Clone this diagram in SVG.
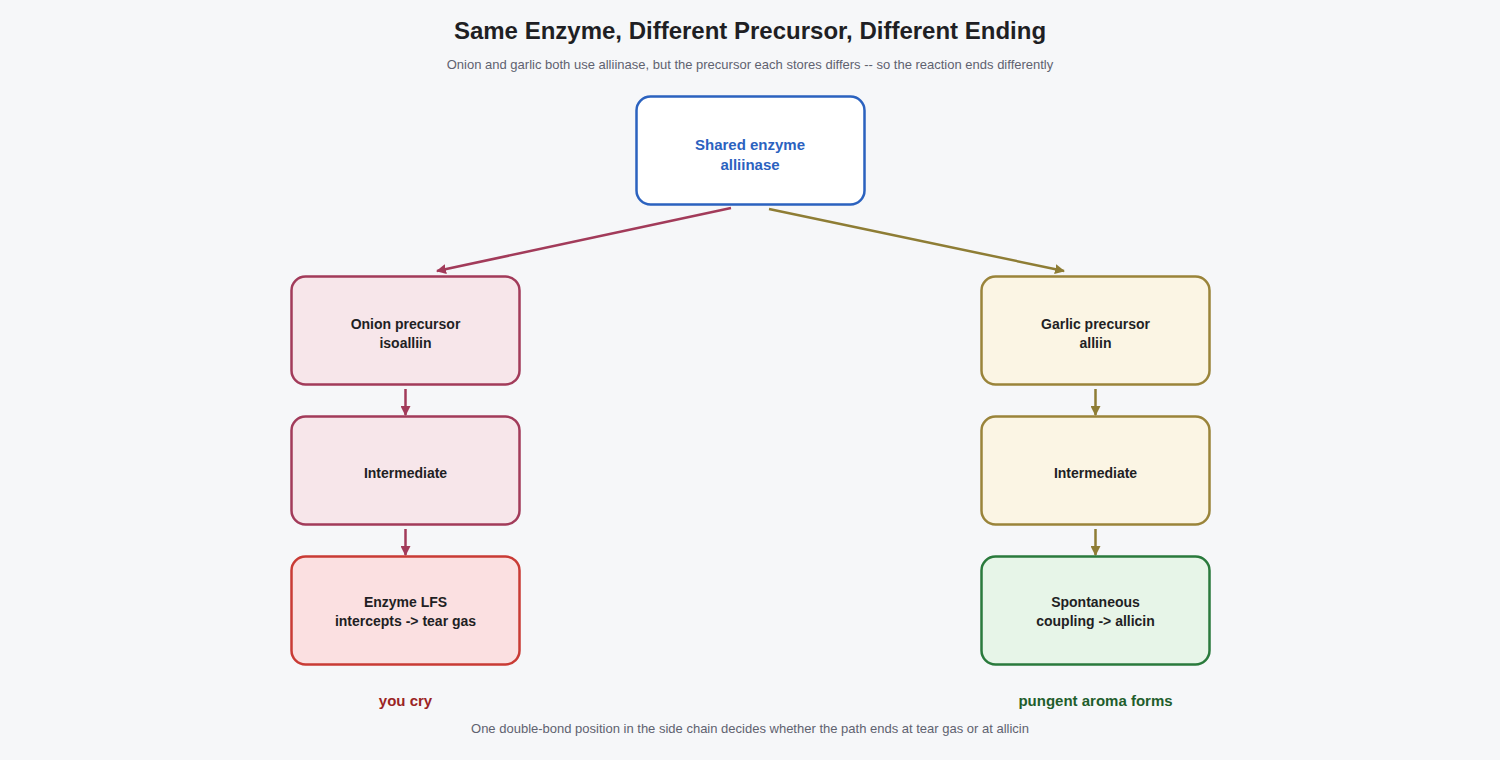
<svg xmlns="http://www.w3.org/2000/svg" width="1500" height="760" viewBox="0 0 1500 760">
<style>
text{font-family:"Liberation Sans",Arial,sans-serif;text-anchor:middle}
.n{font-size:14px;font-weight:bold;fill:#1f1f24}
.box{stroke-width:2.5}
.on{fill:#f7e6ea;stroke:#a23b5a}
.ga{fill:#fbf5e4;stroke:#9a843a}
</style>
<defs>
<marker id="ar" viewBox="0 0 10 10" refX="9" refY="5" markerWidth="4" markerHeight="4" orient="auto"><path d="M0,0L10,5L0,10z" fill="#a23b5a"/></marker>
<marker id="ag" viewBox="0 0 10 10" refX="9" refY="5" markerWidth="4" markerHeight="4" orient="auto"><path d="M0,0L10,5L0,10z" fill="#8e7d35"/></marker>
</defs>
<rect width="1500" height="760" fill="#f6f7f9"/>
<text x="750" y="39" font-size="24" font-weight="bold" fill="#1f1f24">Same Enzyme, Different Precursor, Different Ending</text>
<text x="750" y="69" font-size="13" fill="#5f6270">Onion and garlic both use alliinase, but the precursor each stores differs -- so the reaction ends differently</text>
<g id="connectors" stroke-width="2.5" fill="none">
<line x1="731" y1="208" x2="437" y2="271" stroke="#a23b5a" marker-end="url(#ar)"/>
<line x1="769" y1="209" x2="1064" y2="271" stroke="#8e7d35" marker-end="url(#ag)"/>
<line x1="405.5" y1="389" x2="405.5" y2="415" stroke="#a23b5a" marker-end="url(#ar)"/>
<line x1="405.5" y1="529" x2="405.5" y2="555" stroke="#a23b5a" marker-end="url(#ar)"/>
<line x1="1095.5" y1="389" x2="1095.5" y2="415" stroke="#8e7d35" marker-end="url(#ag)"/>
<line x1="1095.5" y1="529" x2="1095.5" y2="555" stroke="#8e7d35" marker-end="url(#ag)"/>
</g>
<g id="enzyme"><rect x="636.5" y="96.5" width="228" height="108" rx="14" fill="#fff" stroke="#2b62bf" class="box"/>
<text x="750" y="150" font-size="15" font-weight="bold" fill="#2b62bf">Shared enzyme</text><text x="750" y="170" font-size="15" font-weight="bold" fill="#2b62bf">alliinase</text></g>
<g id="onion"><rect x="291.5" y="276.5" width="228" height="108" rx="14" class="box on"/>
<text x="405.5" y="329" class="n">Onion precursor</text><text x="405.5" y="348" class="n">isoalliin</text></g>
<g id="onion-int"><rect x="291.5" y="416.5" width="228" height="108" rx="14" class="box on"/>
<text x="405.5" y="478" class="n">Intermediate</text></g>
<g id="lfs"><rect x="291.5" y="556.5" width="228" height="108" rx="14" class="box" fill="#fbe0e1" stroke="#c93b35"/>
<text x="405.5" y="607" class="n">Enzyme LFS</text><text x="405.5" y="626" class="n">intercepts -&gt; tear gas</text></g>
<g id="garlic"><rect x="981.5" y="276.5" width="228" height="108" rx="14" class="box ga"/>
<text x="1095.5" y="329" class="n">Garlic precursor</text><text x="1095.5" y="348" class="n">alliin</text></g>
<g id="garlic-int"><rect x="981.5" y="416.5" width="228" height="108" rx="14" class="box ga"/>
<text x="1095.5" y="478" class="n">Intermediate</text></g>
<g id="allicin"><rect x="981.5" y="556.5" width="228" height="108" rx="14" class="box" fill="#e7f5e8" stroke="#2a7a3c"/>
<text x="1095.5" y="607" class="n">Spontaneous</text><text x="1095.5" y="626" class="n">coupling -&gt; allicin</text></g>
<text x="405.5" y="706" font-size="15" font-weight="bold" fill="#9b2424">you cry</text>
<text x="1095.5" y="706" font-size="15" font-weight="bold" fill="#1f5e2c">pungent aroma forms</text>
<text x="750" y="733" font-size="13" fill="#5f6270">One double-bond position in the side chain decides whether the path ends at tear gas or at allicin</text>
</svg>
